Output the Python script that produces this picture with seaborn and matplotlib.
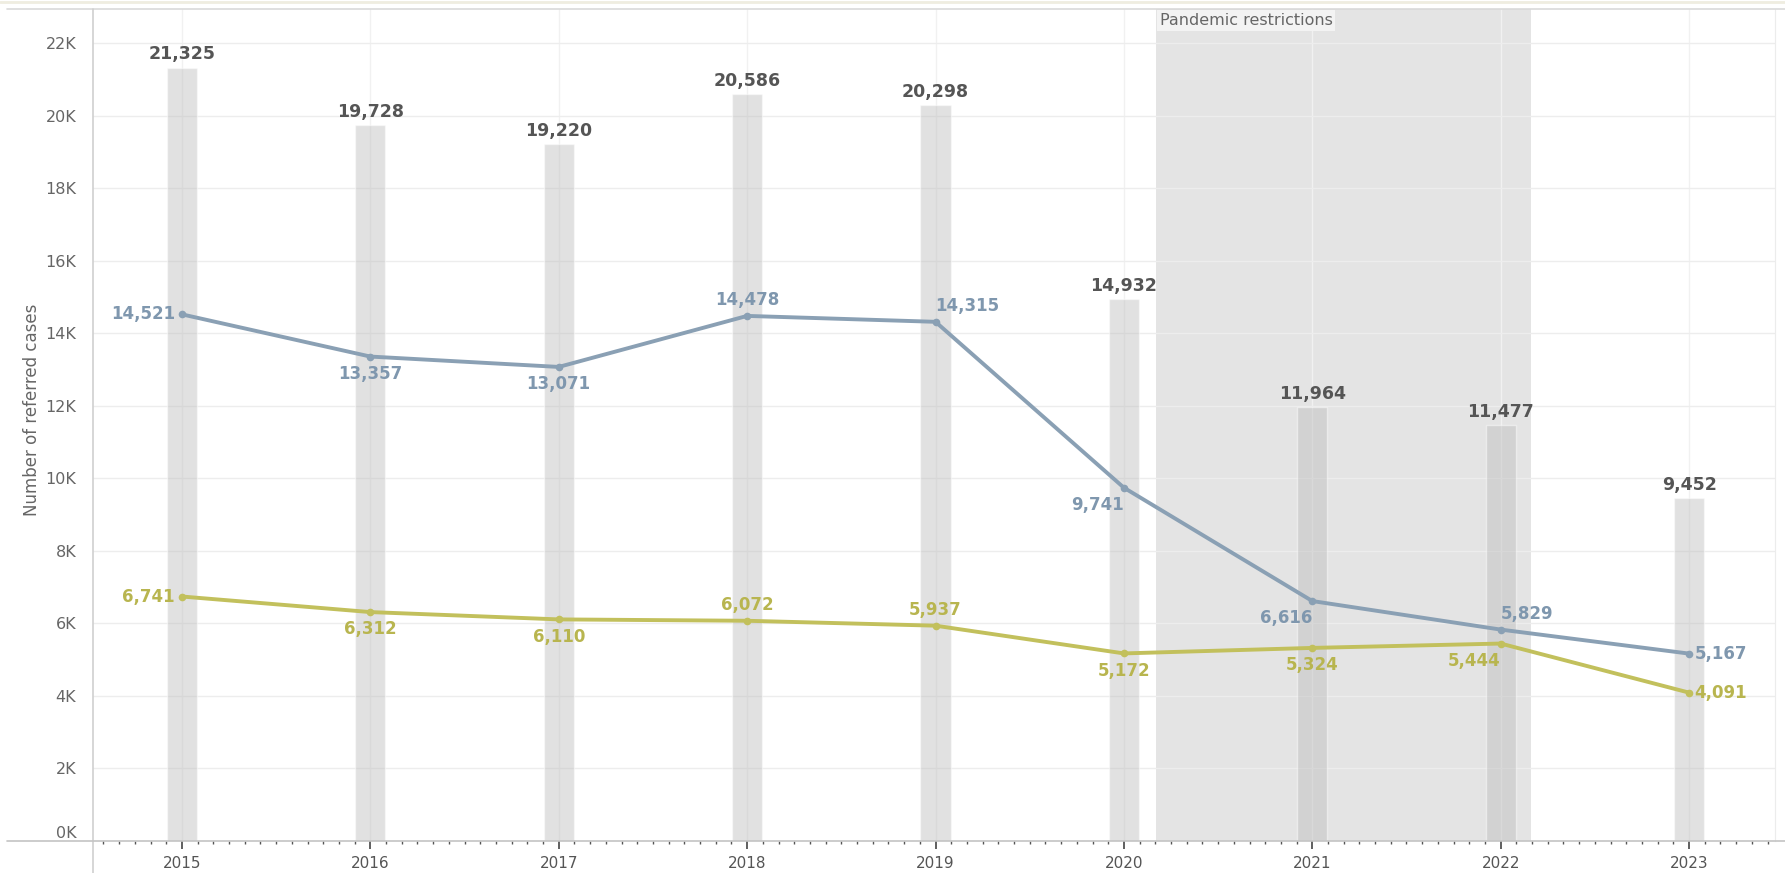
import matplotlib
matplotlib.use("Agg")
import matplotlib.pyplot as plt
from matplotlib.lines import Line2D
from matplotlib.ticker import FixedLocator, FuncFormatter
import seaborn as sns

years = [2015, 2016, 2017, 2018, 2019, 2020, 2021, 2022, 2023]
total_cases = [21325, 19728, 19220, 20586, 20298, 14932, 11964, 11477, 9452]
upper_cases = [14521, 13357, 13071, 14478, 14315, 9741, 6616, 5829, 5167]
lower_cases = [6741, 6312, 6110, 6072, 5937, 5172, 5324, 5444, 4091]
restriction_span = (2020.17, 2022.16)
restriction_label = "Pandemic restrictions"
y_title = "Number of referred cases"

BLUE = "#8aa0b4"
BLUE_TXT = "#7f97ae"
OLIVE = "#c2c05c"
OLIVE_TXT = "#b8b54f"
TOTAL_TXT = "#555555"

# where each point label sits relative to its marker
upper_place = ["L", "B", "B", "A", "AR", "BL", "BL", "AR", "R"]
lower_place = ["L", "B", "B", "A", "A", "B", "B", "BL", "R"]
PLACE = {
    "L": ((-5, 0), "right", "center"),
    "R": ((4, 0), "left", "center"),
    "A": ((0, 5), "center", "bottom"),
    "B": ((0, -6), "center", "top"),
    "AR": ((0, 5), "left", "bottom"),
    "BL": ((0, -6), "right", "top"),
}

sns.set_style("white")
plt.rcParams["font.family"] = ["DejaVu Sans"]

fig = plt.figure(figsize=(17.85, 8.73), dpi=100)
ax = fig.add_axes([93 / 1785, 32 / 873, 1682 / 1785, 832 / 873])

ax.axvspan(*restriction_span, color="#e4e4e4", zorder=0.1, lw=0)

sns.barplot(x=years, y=total_cases, native_scale=True, width=0.16,
            color="#bdbdbd", alpha=0.45, saturation=1, ax=ax, zorder=1)
sns.lineplot(x=years, y=upper_cases, color=BLUE, linewidth=2.8, marker="o",
             markersize=5.5, markeredgewidth=0, ax=ax, zorder=3)
sns.lineplot(x=years, y=lower_cases, color=OLIVE, linewidth=2.8, marker="o",
             markersize=5.5, markeredgewidth=0, ax=ax, zorder=3)

for x, v in zip(years, total_cases):
    ax.annotate(f"{v:,}", (x, v), xytext=(0, 3), textcoords="offset points",
                ha="center", va="bottom", fontsize=12.5, fontweight="bold",
                color=TOTAL_TXT, zorder=5)

for vals, places, col in [(upper_cases, upper_place, BLUE_TXT),
                          (lower_cases, lower_place, OLIVE_TXT)]:
    for x, v, p in zip(years, vals, places):
        off, ha, va = PLACE[p]
        ax.annotate(f"{v:,}", (x, v), xytext=off, textcoords="offset points",
                    ha=ha, va=va, fontsize=12, fontweight="bold",
                    color=col, zorder=5)

ax.text(restriction_span[0] + 0.02, 22820, restriction_label, ha="left", va="top",
        fontsize=11.5, color="#666666", zorder=6,
        bbox=dict(boxstyle="square,pad=0.18", fc="#f3f3f3", ec="none"))

ax.set_xlim(2014.528, 2023.456)
ax.set_ylim(0, 22940)
ax.set_axisbelow(True)

ax.xaxis.set_major_locator(FixedLocator(years))
ax.xaxis.set_major_formatter(FuncFormatter(lambda v, p: f"{int(round(v))}"))
months = [y + m / 12 for y in range(2014, 2024) for m in range(12)]
ax.xaxis.set_minor_locator(FixedLocator(months))
ax.yaxis.set_major_locator(FixedLocator(range(0, 22001, 2000)))
ax.yaxis.set_major_formatter(FuncFormatter(lambda v, p: f"{int(v / 1000)}K"))

ax.tick_params(axis="x", which="major", direction="out", length=6, width=1.2,
               color="#444444", labelsize=11, labelcolor="#555555", pad=5, bottom=True)
ax.tick_params(axis="x", which="minor", direction="out", length=2.5, width=1,
               color="#555555", bottom=True)
ax.tick_params(axis="y", length=0, labelsize=11.5, labelcolor="#666666", pad=12)
# the zero label sits just above the axis line
ax.yaxis.get_major_ticks()[0].label1.set_verticalalignment("bottom")

ax.grid(True, axis="y", which="major", color="#ededed", linewidth=1)
ax.grid(True, axis="x", which="major", color="#f1f1f1", linewidth=1)
ax.set_xlabel("")
ax.set_ylabel(y_title, fontsize=12, color="#666666")
ax.yaxis.set_label_coords(-0.0312, 0.518)

for s in ["top", "bottom", "left"]:
    ax.spines[s].set_visible(False)
ax.spines["right"].set_color("#ececec")

# frame lines that run past the plot area, like the source dashboard
fig.add_artist(Line2D([7 / 1785, 1], [1 - 9 / 873] * 2, color="#d9d9d9", lw=1.2))
fig.add_artist(Line2D([7 / 1785, 1], [32 / 873] * 2, color="#c4c4c4", lw=1.2, zorder=4))
fig.add_artist(Line2D([93 / 1785] * 2, [0, 1 - 9 / 873], color="#cfcfcf", lw=1.2))
fig.add_artist(Line2D([0, 1], [1 - 1.5 / 873] * 2, color="#efede0", lw=2))

fig.savefig("out.png", dpi=100)
